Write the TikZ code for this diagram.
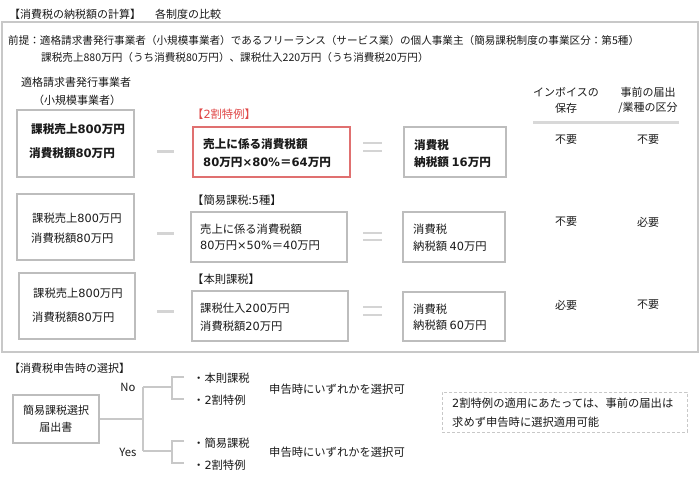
\documentclass[tikz,border=0pt]{standalone}
\usepackage{fontspec}
\setmainfont{Noto Sans CJK JP}
\newfontfamily\digf{DejaVu Sans}
\newcommand\dg[1]{{\digf #1}}
\definecolor{frameg}{HTML}{C8C8C8}
\definecolor{boxg}{HTML}{BDBDBD}
\definecolor{opg}{HTML}{D4D4D4}
\definecolor{lineg}{HTML}{D8D8D8}
\definecolor{redb}{HTML}{E07070}
\definecolor{redt}{HTML}{E04848}
\definecolor{txt}{HTML}{1A1A1A}
\tikzset{
  gbox/.style={draw=boxg, line width=1.2pt, rectangle, inner sep=0pt},
  rbox/.style={gbox, draw=redb},
  txl/.style={anchor=west, inner sep=0pt, text=txt, font=\fontsize{11}{13}\selectfont},
  txm/.style={txl, font=\fontsize{11.3}{13}\selectfont},
  txb/.style={txl, font=\fontsize{11.6}{14}\selectfont\bfseries},
  txp/.style={txl, font=\fontsize{10.6}{12}\selectfont},
  txc/.style={txl, anchor=center},
  minusline/.style={draw=opg, line width=3pt},
  eqline/.style={draw=opg, line width=2.5pt},
  connline/.style={draw=frameg, line width=2pt},
}
\begin{document}
\begin{tikzpicture}[x=1pt,y=-1pt]
\useasboundingbox (0,0) rectangle (700,478);
\fill[white] (0,0) rectangle (700,478);
% title
\node[txl] (title1) at (9,14) {【消費税の納税額の計算】};
\node[txl] (title2) at (155,14) {各制度の比較};
\draw[frameg, line width=1.5pt] (2,22) rectangle (698,352);
% premise
\node[txp] (pre1) at (8,40) {前提：適格請求書発行事業者（小規模事業者）であるフリーランス（サービス業）の個人事業主（簡易課税制度の事業区分：第5種）};
\node[txp] (pre2) at (41,57) {課税売上880万円（うち消費税80万円）、課税仕入220万円（うち消費税20万円）};
% column header
\node[txc] (h1) at (76,82) {適格請求書発行事業者};
\node[txc] (h2) at (77,100) {（小規模事業者）};
% table header
\node[txc] (th1) at (566,92) {インボイスの};
\node[txc] (th2) at (566,108) {保存};
\node[txc] (th3) at (648,92) {事前の届出};
\node[txc] (th4) at (648,108) {/業種の区分};
\coordinate (ul1) at (533,123);
\coordinate (ul2) at (679,123);
\draw[lineg, line width=3pt] (ul1) -- (ul2);

% ---- row 1
\node[gbox, minimum width=117pt, minimum height=67pt] (a1) at (75.5,143.5) {};
\node[txb] (a1t1) at (31,129) {課税売上\dg{800}万円};
\node[txb] (a1t2) at (29,153) {消費税額\dg{80}万円};
\draw[minusline] (157,152) -- (174,152);
\node[txm, text=redt] (l1) at (192,114) {【\dg{2}割特例】};
\node[rbox, minimum width=157pt, minimum height=50pt] (b1) at (271.5,152) {};
\node[txb] (b1t1) at (203,144) {売上に係る消費税額};
\node[txb] (b1t2) at (203,162) {\dg{80}万円\dg{×80\%}＝\dg{64}万円};
\draw[eqline] (363,143) -- (382,143);
\draw[eqline] (363,151) -- (382,151);
\node[gbox, minimum width=102pt, minimum height=50pt] (c1) at (455,152) {};
\node[txb] (c1t1) at (414,145) {消費税};
\node[txb] (c1t2) at (414,162) {納税額 \dg{16}万円};
\node[txc] (v11) at (566,140) {不要};
\node[txc] (v12) at (648,140) {不要};

% ---- row 2
\node[gbox, minimum width=117pt, minimum height=66pt] (a2) at (75.5,227) {};
\node[txm] (a2t1) at (32,218) {課税売上\dg{800}万円};
\node[txm] (a2t2) at (31,238) {消費税額\dg{80}万円};
\draw[minusline] (157,233) -- (174,233);
\node[txm] (l2) at (192,200) {【簡易課税:\dg{5}種】};
\node[gbox, minimum width=156pt, minimum height=50pt] (b2) at (269,237) {};
\node[txm] (b2t1) at (200,229) {売上に係る消費税額};
\node[txm] (b2t2) at (200,246) {\dg{80}万円\dg{×50\%}＝\dg{40}万円};
\draw[eqline] (363,233) -- (382,233);
\draw[eqline] (363,240) -- (382,240);
\node[gbox, minimum width=102pt, minimum height=50pt] (c2) at (454,237) {};
\node[txm] (c2t1) at (413,229) {消費税};
\node[txm] (c2t2) at (413,246) {納税額 \dg{40}万円};
\node[txc] (v21) at (566,222) {不要};
\node[txc] (v22) at (648,222) {必要};

% ---- row 3
\node[gbox, minimum width=116pt, minimum height=66pt] (a3) at (77,306) {};
\node[txm] (a3t1) at (33,293) {課税売上\dg{800}万円};
\node[txm] (a3t2) at (32,317) {消費税額\dg{80}万円};
\draw[minusline] (157,311) -- (174,311);
\node[txm] (l3) at (192,279) {【本則課税】};
\node[gbox, minimum width=156pt, minimum height=50pt] (b3) at (270,316) {};
\node[txm] (b3t1) at (200,308) {課税仕入\dg{200}万円};
\node[txm] (b3t2) at (200,326) {消費税額\dg{20}万円};
\draw[eqline] (363,307) -- (382,307);
\draw[eqline] (363,315) -- (382,315);
\node[gbox, minimum width=102pt, minimum height=49pt] (c3) at (454,316.5) {};
\node[txm] (c3t1) at (413,309) {消費税};
\node[txm] (c3t2) at (413,325) {納税額 \dg{60}万円};
\node[txc] (v31) at (566,305) {必要};
\node[txc] (v32) at (648,305) {不要};

% ---- bottom section
\node[txl] (sec) at (9,368) {【消費税申告時の選択】};
\node[gbox, minimum width=86pt, minimum height=48pt, align=center, text=txt,
      font=\fontsize{11}{17}\selectfont] (sel) at (56,419) {簡易課税選択\\届出書};
\coordinate (j) at (143,419);
\coordinate (jn) at (143,387);
\coordinate (jy) at (143,451);
\coordinate (bn) at (172,387);
\coordinate (bnt) at (172,377);
\coordinate (bnb) at (172,399);
\coordinate (bntr) at (184,377);
\coordinate (bnbr) at (184,399);
\coordinate (by) at (172,451);
\coordinate (byt) at (172,441);
\coordinate (byb) at (172,463);
\coordinate (bytr) at (184,441);
\coordinate (bybr) at (184,463);
\draw[connline] (sel.east) -- (j);
\draw[connline] (jn) -- (jy);
\draw[connline] (jn) -- (bn);
\draw[connline] (jy) -- (by);
\draw[connline] (bntr) -- (bnt) -- (bnb) -- (bnbr);
\draw[connline] (bytr) -- (byt) -- (byb) -- (bybr);
\node[txm, anchor=center] (no) at (128,387) {No};
\node[txm, anchor=center] (yes) at (128,452) {Yes};
\node[txm] (i1) at (193,378) {・本則課税};
\node[txm] (i2) at (193,400) {・\dg{2}割特例};
\node[txm] (i3) at (193,443) {・簡易課税};
\node[txm] (i4) at (193,465) {・\dg{2}割特例};
\node[txm] (r1) at (269,389) {申告時にいずれかを選択可};
\node[txm] (r2) at (269,452) {申告時にいずれかを選択可};
\node[draw=frameg, line width=1pt, dash pattern=on 3pt off 2pt, minimum width=245pt,
      minimum height=40pt, inner sep=0pt] (note) at (564.5,412) {};
\node[txm] (n1) at (452,403) {\dg{2}割特例の適用にあたっては、事前の届出は};
\node[txm] (n2) at (452,422) {求めず申告時に選択適用可能};
\end{tikzpicture}
\end{document}
